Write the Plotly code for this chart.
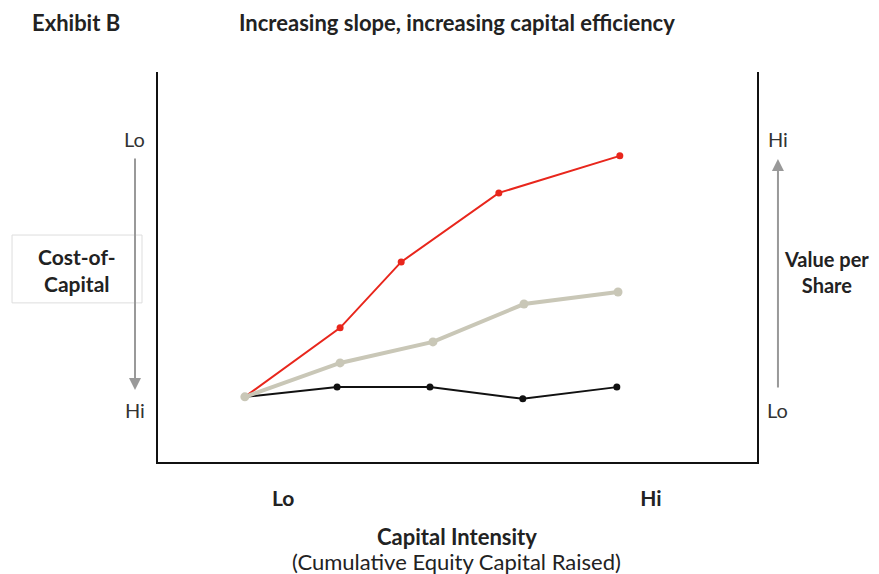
import plotly.graph_objects as go

# positions along the capital-intensity axis (0-100 scale)
x_red = [14.5, 30.4, 40.6, 56.9, 77.1]
y_red = [16.7, 34.4, 51.3, 69.0, 78.5]

x_gray = [14.5, 30.4, 45.9, 61.1, 76.8]
y_gray = [16.7, 25.4, 30.8, 40.5, 43.6]

x_black = [14.5, 29.9, 45.4, 60.9, 76.6]
y_black = [16.7, 19.2, 19.2, 16.2, 19.2]

x_tickvals = [20.9, 82.3]
x_ticktext = ["<b>Lo</b>", "<b>Hi</b>"]

FONT = "Lato"
TXT = "#222222"

fig = go.Figure()
fig.add_trace(go.Scatter(x=x_black, y=y_black, mode="lines+markers",
                         line=dict(color="#111111", width=2), marker=dict(size=7, color="#111111")))
fig.add_trace(go.Scatter(x=x_red, y=y_red, mode="lines+markers",
                         line=dict(color="#e8261c", width=2), marker=dict(size=7, color="#e8261c")))
fig.add_trace(go.Scatter(x=x_gray, y=y_gray, mode="lines+markers",
                         line=dict(color="#c9c7b7", width=4), marker=dict(size=9, color="#c9c7b7")))

# page body has an 8px margin, so the figure is sized to fit the window
fig.update_layout(
    width=871, height=566,
    margin=dict(l=150, r=122, t=64, b=112),
    plot_bgcolor="white", paper_bgcolor="white",
    showlegend=False,
    font=dict(family=FONT, color=TXT, size=20),
)
fig.update_xaxes(range=[0, 100], showgrid=False, zeroline=False,
                 showline=True, linecolor="#111111", linewidth=2,
                 tickvals=x_tickvals, ticktext=x_ticktext,
                 ticks="outside", ticklen=17, tickcolor="rgba(0,0,0,0)",
                 tickfont=dict(size=21, color=TXT))
fig.update_yaxes(range=[0, 100], showgrid=False, zeroline=False,
                 showline=True, mirror=True, linecolor="#111111", linewidth=2,
                 showticklabels=False)

# cost-of-capital box
fig.add_shape(type="rect", xref="paper", yref="paper",
              x0=-0.2437, x1=-0.0267, y0=0.408, y1=0.582,
              line=dict(color="#dddddd", width=1), fillcolor="rgba(0,0,0,0)")

ann = []
# titles
ann.append(dict(text="<b>Exhibit B</b>", x=-0.2137, y=1.128, xanchor="left", font=dict(size=22)))
ann.append(dict(text="<b>Increasing slope, increasing capital efficiency</b>", x=0.1319, y=1.128,
                xanchor="left", font=dict(size=22)))
# bottom titles
ann.append(dict(text="<b>Capital Intensity</b>", x=0.499, y=-0.192, font=dict(size=22)))
ann.append(dict(text="(Cumulative Equity Capital Raised)", x=0.499, y=-0.254, font=dict(size=22)))
# side labels
ann.append(dict(text="<b>Cost-of-<br>Capital</b>", x=-0.135, y=0.493, font=dict(size=21)))
ann.append(dict(text="<b>Value per<br>Share</b>", x=1.116, y=0.487, font=dict(size=20)))
ann.append(dict(text="Lo", x=-0.0384, y=0.828, font=dict(size=20, color="#333333")))
ann.append(dict(text="Hi", x=-0.0384, y=0.133, font=dict(size=20, color="#333333")))
ann.append(dict(text="Hi", x=1.035, y=0.828, font=dict(size=20, color="#333333")))
ann.append(dict(text="Lo", x=1.035, y=0.133, font=dict(size=20, color="#333333")))
for a in ann:
    a.setdefault("xanchor", "center")
    a.update(xref="paper", yref="paper", yanchor="middle", showarrow=False)
    fig.add_annotation(**a)

# arrows
fig.add_annotation(xref="paper", yref="paper", x=-0.0384, y=0.1846, ax=0, ay=-233,
                   showarrow=True, arrowhead=2, arrowsize=1.2, arrowwidth=2, arrowcolor="#999999", text="")
fig.add_annotation(xref="paper", yref="paper", x=1.035, y=0.777, ax=0, ay=230,
                   showarrow=True, arrowhead=2, arrowsize=1.2, arrowwidth=2, arrowcolor="#999999", text="")

fig.write_html("out.html")
